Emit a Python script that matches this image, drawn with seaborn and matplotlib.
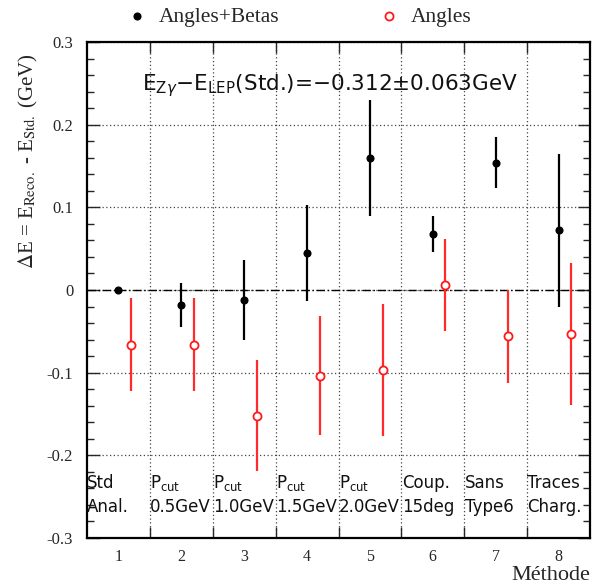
import numpy as np
import pandas as pd
import matplotlib
matplotlib.use("Agg")
import matplotlib.pyplot as plt
import seaborn as sns
from matplotlib.ticker import MultipleLocator

# valeurs
methode = [1, 2, 3, 4, 5, 6, 7, 8]
angles_betas = [0.000, -0.018, -0.012, 0.045, 0.160, 0.068, 0.154, 0.072]
angles_betas_err = [0.000, 0.027, 0.048, 0.058, 0.070, 0.022, 0.031, 0.093]
angles = [-0.066, -0.066, -0.152, -0.104, -0.097, 0.006, -0.056, -0.053]
angles_err = [0.056, 0.056, 0.067, 0.072, 0.080, 0.056, 0.056, 0.086]
labels_haut = ["Std", r"P$_{\mathrm{cut}}$", r"P$_{\mathrm{cut}}$", r"P$_{\mathrm{cut}}$",
               r"P$_{\mathrm{cut}}$", "Coup.", "Sans", "Traces"]
labels_bas = ["Anal.", "0.5GeV", "1.0GeV", "1.5GeV", "2.0GeV", "15deg", "Type6", "Charg."]
y_ticks = [-0.3, -0.2, -0.1, 0.0, 0.1, 0.2, 0.3]
y_ticklabels = ["-0.3", "-0.2", "-0.1", "0", "0.1", "0.2", "0.3"]

sns.set_style("ticks")
plt.rcParams["font.family"] = ["Liberation Serif", "DejaVu Serif"]
plt.rcParams["mathtext.fontset"] = "stix"

fig = plt.figure(figsize=(5.92, 5.87), dpi=100)
ax = fig.add_axes([0.147, 0.0835, 0.8496, 0.845])

df_ab = pd.DataFrame({"methode": methode, "dE": angles_betas, "err": angles_betas_err})
df_a = pd.DataFrame({"methode": np.array(methode) + 0.2, "dE": angles, "err": angles_err})

# grille et ligne zero
ax.set_xlim(0.5, 8.5)
ax.set_ylim(-0.3, 0.3)
ax.set_xticks(methode)
ax.set_xticklabels([str(m) for m in methode])
ax.set_xticks(np.arange(1.5, 8.5, 1), minor=True)
ax.set_yticks(y_ticks)
ax.set_yticklabels(y_ticklabels)
ax.yaxis.set_minor_locator(MultipleLocator(0.02))
ax.grid(which="minor", axis="x", linestyle=(0, (1, 2)), color="#444444", linewidth=0.9)
ax.grid(which="major", axis="y", linestyle=(0, (1, 2)), color="#444444", linewidth=0.9)
ax.axhline(0, color="black", linestyle=(0, (6, 2, 1, 2)), linewidth=1.0, zorder=2)

ax.errorbar(df_ab.methode, df_ab.dE, yerr=df_ab.err, fmt="none", ecolor="black",
            elinewidth=1.6, capsize=0, zorder=3)
ax.errorbar(df_a.methode, df_a.dE, yerr=df_a.err, fmt="none", ecolor="#ff2a2a",
            elinewidth=1.6, capsize=0, zorder=3)
sns.scatterplot(data=df_ab, x="methode", y="dE", ax=ax, color="black", s=34,
                edgecolor="black", linewidth=0, zorder=4, label="Angles+Betas")
sns.scatterplot(data=df_a, x="methode", y="dE", ax=ax, facecolor="white", edgecolor="#ff1a1a",
                s=34, linewidth=1.3, zorder=4, label="Angles")

handles, labels = ax.get_legend_handles_labels()
ax.get_legend().remove()
fig.legend(handles, labels, loc="center", bbox_to_anchor=(0.505, 0.971), ncol=2, frameon=False,
           fontsize=15.5, columnspacing=4.6, handletextpad=0.5, handlelength=1)

for i, (h, b) in enumerate(zip(labels_haut, labels_bas)):
    ax.text(methode[i] - 0.495, -0.233, h, fontsize=12, va="center", ha="left",
            family="DejaVu Sans", math_fontfamily="dejavusans", color="#111111")
    ax.text(methode[i] - 0.495, -0.262, b, fontsize=12, va="center", ha="left",
            family="DejaVu Sans", color="#111111")

ax.text(4.36, 0.247, r"E$_{\mathrm{Z}\gamma}$−E$_{\mathrm{LEP}}$(Std.)=−0.312±0.063GeV",
        fontsize=15.5, ha="center", va="center", family="DejaVu Sans",
        math_fontfamily="dejavusans", color="#111111")

ax.tick_params(axis="x", which="major", length=0, pad=8, labelsize=11.5)
ax.tick_params(axis="x", which="minor", direction="in", length=8, width=1, top=True, bottom=True)
ax.tick_params(axis="y", which="major", direction="in", length=9, width=1, left=True, right=True,
               pad=10, labelsize=12)
ax.tick_params(axis="y", which="minor", direction="in", length=5, width=1, left=True, right=True)
for s in ax.spines.values():
    s.set_linewidth(1.6)
    s.set_color("black")

ax.set_ylabel(r"$\Delta$E = E$_{\mathrm{Reco.}}$ - E$_{\mathrm{Std.}}$ (GeV)", fontsize=15)
ax.yaxis.set_label_coords(-0.093, 0.76)
ax.set_xlabel("Méthode", loc="right", fontsize=16)
ax.xaxis.set_label_coords(1.0, -0.056)
ax.xaxis.label.set_verticalalignment("top")

fig.savefig("out.png", dpi=100)
